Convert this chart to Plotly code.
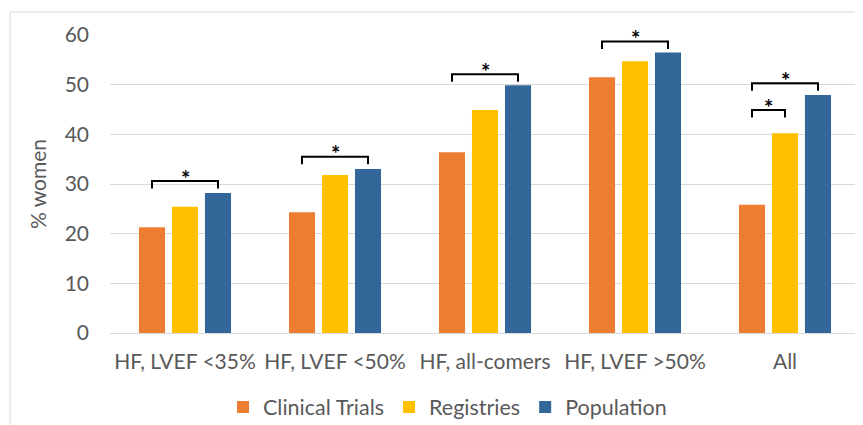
import plotly.graph_objects as go

categories = ["HF, LVEF <35%", "HF, LVEF <50%", "HF, all-comers", "HF, LVEF >50%", "All"]
series_names = ["Clinical Trials", "Registries", "Population"]
clinical_trials = [21.3, 24.3, 36.4, 51.5, 25.8]
registries = [25.4, 31.8, 44.9, 54.7, 40.2]
population = [28.2, 33.0, 49.9, 56.5, 47.9]
colors = ["#ED7D31", "#FFC000", "#336699"]

# significance brackets: category index, from series, to series, bracket height
bracket_cat = [0, 1, 2, 3, 4, 4]
bracket_from = [0, 0, 0, 0, 0, 0]
bracket_to = [2, 2, 2, 2, 2, 1]
bracket_y = [30.6, 35.5, 52.1, 58.7, 50.3, 44.9]
bracket_label = "*"

y_ticks = [0, 10, 20, 30, 40, 50, 60]

FONT = "Lato"
GRAY = "#595959"
bargap = 0.34
bargroupgap = 0.21
slot = (1 - bargap) / 3

fig = go.Figure()
for name, vals, c in zip(series_names, [clinical_trials, registries, population], colors):
    fig.add_trace(go.Bar(x=categories, y=vals, name=name, marker=dict(color=c, line=dict(width=0))))

shapes = []
annotations = []
leg = 1.5
for ci, f, t, yv in zip(bracket_cat, bracket_from, bracket_to, bracket_y):
    x0 = ci + (f - 1) * slot
    x1 = ci + (t - 1) * slot
    shapes.append(dict(type="path", xref="x", yref="y",
                       path=f"M {x0} {yv-leg} L {x0} {yv} L {x1} {yv} L {x1} {yv-leg}",
                       line=dict(color="#000000", width=2)))
    annotations.append(dict(x=(x0 + x1) / 2, y=yv, xref="x", yref="y", text="<b>" + bracket_label + "</b>",
                            showarrow=False, yanchor="middle", yshift=3,
                            font=dict(family=FONT, size=22, color="#000000")))

# chart frame lines (top and left)
shapes.append(dict(type="line", xref="paper", yref="paper", x0=-0.1333, x1=1.02, y0=1.077, y1=1.077,
                   line=dict(color="#D9D9D9", width=1)))
shapes.append(dict(type="line", xref="paper", yref="paper", x0=-0.1333, x1=-0.1333, y0=1.077, y1=-0.35,
                   line=dict(color="#D9D9D9", width=1)))

# page body adds an 8px offset, so margins are shifted accordingly
fig.update_layout(
    width=863, height=425,
    margin=dict(l=102, r=11, t=27, b=100, autoexpand=False),
    paper_bgcolor="white", plot_bgcolor="white",
    barmode="group", bargap=bargap, bargroupgap=bargroupgap,
    font=dict(family=FONT, color=GRAY, size=21),
    shapes=shapes, annotations=annotations,
    legend=dict(orientation="h", x=0.45, xanchor="center", y=-0.248, yanchor="middle",
                font=dict(family=FONT, size=21.5, color=GRAY), itemwidth=30, traceorder="normal"),
    xaxis=dict(showgrid=False, showline=False, tickfont=dict(size=21, color=GRAY), ticklabelstandoff=14,
               automargin=False),
    yaxis=dict(range=[0, 60], tickvals=y_ticks, showgrid=True, gridcolor="#D9D9D9", gridwidth=1,
               zeroline=True, zerolinecolor="#D9D9D9", zerolinewidth=1,
               tickfont=dict(size=21, color=GRAY), ticklabelstandoff=20, automargin=False,
               title=dict(text="% women", font=dict(size=21, color=GRAY), standoff=12)),
)

fig.write_html("out.html")
